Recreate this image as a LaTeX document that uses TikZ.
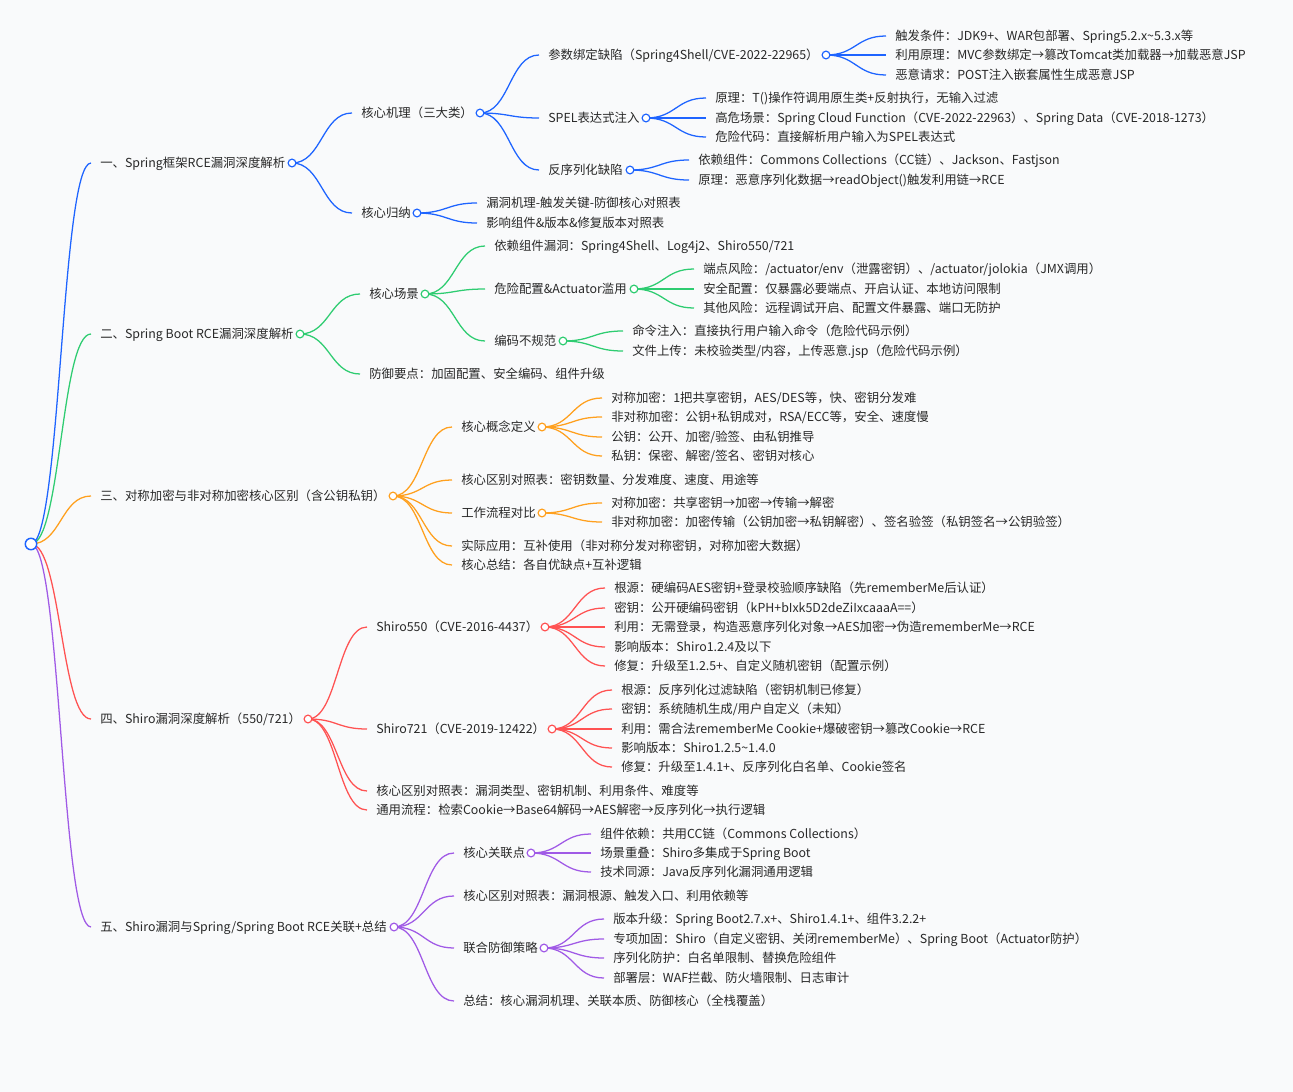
\documentclass[tikz,border=0pt]{standalone}
\usepackage{fontspec}
\setmainfont{Noto Sans CJK SC}
\usetikzlibrary{calc}

\definecolor{bgc}{RGB}{249,250,251}
\definecolor{txtc}{RGB}{40,40,40}
\definecolor{mblue}{RGB}{30,100,255}
\definecolor{mgreen}{RGB}{46,204,113}
\definecolor{morange}{RGB}{255,160,30}
\definecolor{mred}{RGB}{255,82,82}
\definecolor{mpurple}{RGB}{160,90,230}

\pgfdeclarelayer{bg}
\pgfdeclarelayer{edge}
\pgfsetlayers{bg,edge,main}

\begin{document}
\begin{tikzpicture}[x=0.75pt,y=-0.75pt,
  txt/.style={anchor=west,inner sep=0pt,text=txtc,text height=8.6pt,text depth=1.3pt,
    font=\fontsize{9.3}{11}\selectfont},
  dot/.style={circle,draw=#1,fill=white,line width=0.9pt,minimum size=5.8pt,inner sep=0pt},
  link/.style={draw=#1,line width=0.95pt}]

%% 背景
\begin{pgfonlayer}{bg}
\fill[bgc] (0,0) rectangle (1293,1092);
\end{pgfonlayer}
\useasboundingbox (0,0) rectangle (1293,1092);

%% 根
\node[dot=mblue,minimum size=8.6pt,line width=1.1pt] (c0) at (31,544) {};

%% 一
\node[txt] (t1) at (100,163) {一、Spring框架RCE漏洞深度解析};
\node[dot=mblue] (c1) at (292,163) {};
\node[txt] (t11) at (361,113) {核心机理（三大类）};
\node[dot=mblue] (c11) at (480,113) {};
\node[txt] (t111) at (548,55) {参数绑定缺陷（Spring4Shell/CVE-2022-22965）};
\node[dot=mblue] (c111) at (826,55) {};
\node[txt] (t1111) at (895,36) {触发条件：JDK9+、WAR包部署、Spring5.2.x\textasciitilde 5.3.x等};
\node[txt] (t1112) at (895,55) {利用原理：MVC参数绑定→篡改Tomcat类加载器→加载恶意JSP};
\node[txt] (t1113) at (895,75) {恶意请求：POST注入嵌套属性生成恶意JSP};
\node[txt] (t112) at (548,118) {SPEL表达式注入};
\node[dot=mblue] (c112) at (646,118) {};
\node[txt] (t1121) at (715,98) {原理：T()操作符调用原生类+反射执行，无输入过滤};
\node[txt] (t1122) at (715,118) {高危场景：Spring Cloud Function（CVE-2022-22963）、Spring Data（CVE-2018-1273）};
\node[txt] (t1123) at (715,137) {危险代码：直接解析用户输入为SPEL表达式};
\node[txt] (t113) at (548,170) {反序列化缺陷};
\node[dot=mblue] (c113) at (630,170) {};
\node[txt] (t1131) at (698,160) {依赖组件：Commons Collections（CC链）、Jackson、Fastjson};
\node[txt] (t1132) at (698,180) {原理：恶意序列化数据→readObject()触发利用链→RCE};
\node[txt] (t12) at (361,213) {核心归纳};
\node[dot=mblue] (c12) at (417,213) {};
\node[txt] (t121) at (486,203) {漏洞机理-触发关键-防御核心对照表};
\node[txt] (t122) at (486,223) {影响组件\&版本\&修复版本对照表};

%% 二
\node[txt] (t2) at (100,334) {二、Spring Boot RCE漏洞深度解析};
\node[dot=mgreen] (c2) at (300,334) {};
\node[txt] (t21) at (369,294) {核心场景};
\node[dot=mgreen] (c21) at (425,294) {};
\node[txt] (t211) at (494,246) {依赖组件漏洞：Spring4Shell、Log4j2、Shiro550/721};
\node[txt] (t212) at (494,289) {危险配置\&Actuator滥用};
\node[dot=mgreen] (c212) at (634,289) {};
\node[txt] (t2121) at (703,269) {端点风险：/actuator/env（泄露密钥）、/actuator/jolokia（JMX调用）};
\node[txt] (t2122) at (703,289) {安全配置：仅暴露必要端点、开启认证、本地访问限制};
\node[txt] (t2123) at (703,308) {其他风险：远程调试开启、配置文件暴露、端口无防护};
\node[txt] (t213) at (494,341) {编码不规范};
\node[dot=mgreen] (c213) at (563,341) {};
\node[txt] (t2131) at (632,331) {命令注入：直接执行用户输入命令（危险代码示例）};
\node[txt] (t2132) at (632,351) {文件上传：未校验类型/内容，上传恶意.jsp（危险代码示例）};
\node[txt] (t22) at (369,374) {防御要点：加固配置、安全编码、组件升级};

%% 三
\node[txt] (t3) at (100,496) {三、对称加密与非对称加密核心区别（含公钥私钥）};
\node[dot=morange] (c3) at (393,496) {};
\node[txt] (t31) at (461,427) {核心概念定义};
\node[dot=morange] (c31) at (542,427) {};
\node[txt] (t311) at (611,398) {对称加密：1把共享密钥，AES/DES等，快、密钥分发难};
\node[txt] (t312) at (611,417) {非对称加密：公钥+私钥成对，RSA/ECC等，安全、速度慢};
\node[txt] (t313) at (611,437) {公钥：公开、加密/验签、由私钥推导};
\node[txt] (t314) at (611,456) {私钥：保密、解密/签名、密钥对核心};
\node[txt] (t32) at (461,480) {核心区别对照表：密钥数量、分发难度、速度、用途等};
\node[txt] (t33) at (461,513) {工作流程对比};
\node[dot=morange] (c33) at (542,513) {};
\node[txt] (t331) at (611,503) {对称加密：共享密钥→加密→传输→解密};
\node[txt] (t332) at (611,522) {非对称加密：加密传输（公钥加密→私钥解密）、签名验签（私钥签名→公钥验签）};
\node[txt] (t34) at (461,546) {实际应用：互补使用（非对称分发对称密钥，对称加密大数据）};
\node[txt] (t35) at (461,565) {核心总结：各自优缺点+互补逻辑};

%% 四
\node[txt] (t4) at (100,719) {四、Shiro漏洞深度解析（550/721）};
\node[dot=mred] (c4) at (308,719) {};
\node[txt] (t41) at (376,627) {Shiro550（CVE-2016-4437）};
\node[dot=mred] (c41) at (545,627) {};
\node[txt] (t411) at (614,588) {根源：硬编码AES密钥+登录校验顺序缺陷（先rememberMe后认证）};
\node[txt] (t412) at (614,608) {密钥：公开硬编码密钥（kPH+bIxk5D2deZiIxcaaaA==）};
\node[txt] (t413) at (614,627) {利用：无需登录，构造恶意序列化对象→AES加密→伪造rememberMe→RCE};
\node[txt] (t414) at (614,647) {影响版本：Shiro1.2.4及以下};
\node[txt] (t415) at (614,666) {修复：升级至1.2.5+、自定义随机密钥（配置示例）};
\node[txt] (t42) at (376,729) {Shiro721（CVE-2019-12422）};
\node[dot=mred] (c42) at (552,729) {};
\node[txt] (t421) at (621,690) {根源：反序列化过滤缺陷（密钥机制已修复）};
\node[txt] (t422) at (621,709) {密钥：系统随机生成/用户自定义（未知）};
\node[txt] (t423) at (621,729) {利用：需合法rememberMe Cookie+爆破密钥→篡改Cookie→RCE};
\node[txt] (t424) at (621,748) {影响版本：Shiro1.2.5\textasciitilde 1.4.0};
\node[txt] (t425) at (621,767) {修复：升级至1.4.1+、反序列化白名单、Cookie签名};
\node[txt] (t43) at (376,791) {核心区别对照表：漏洞类型、密钥机制、利用条件、难度等};
\node[txt] (t44) at (376,810) {通用流程：检索Cookie→Base64解码→AES解密→反序列化→执行逻辑};

%% 五
\node[txt] (t5) at (100,927) {五、Shiro漏洞与Spring/Spring Boot RCE关联+总结};
\node[dot=mpurple] (c5) at (394,927) {};
\node[txt] (t51) at (463,853) {核心关联点};
\node[dot=mpurple] (c51) at (531,853) {};
\node[txt] (t511) at (600,834) {组件依赖：共用CC链（Commons Collections）};
\node[txt] (t512) at (600,853) {场景重叠：Shiro多集成于Spring Boot};
\node[txt] (t513) at (600,872) {技术同源：Java反序列化漏洞通用逻辑};
\node[txt] (t52) at (463,896) {核心区别对照表：漏洞根源、触发入口、利用依赖等};
\node[txt] (t53) at (463,948) {联合防御策略};
\node[dot=mpurple] (c53) at (544,948) {};
\node[txt] (t531) at (613,919) {版本升级：Spring Boot2.7.x+、Shiro1.4.1+、组件3.2.2+};
\node[txt] (t532) at (613,939) {专项加固：Shiro（自定义密钥、关闭rememberMe）、Spring Boot（Actuator防护）};
\node[txt] (t533) at (613,958) {序列化防护：白名单限制、替换危险组件};
\node[txt] (t534) at (613,978) {部署层：WAF拦截、防火墙限制、日志审计};
\node[txt] (t54) at (463,1001) {总结：核心漏洞机理、关联本质、防御核心（全栈覆盖）};

%% 線
\begin{pgfonlayer}{edge}
\foreach \col/\lst in {
  mblue/{c0/t1,c1/t11,c1/t12,c11/t111,c11/t112,c11/t113,c111/t1111,c111/t1112,c111/t1113,
    c112/t1121,c112/t1122,c112/t1123,c113/t1131,c113/t1132,c12/t121,c12/t122},
  mgreen/{c0/t2,c2/t21,c2/t22,c21/t211,c21/t212,c21/t213,c212/t2121,c212/t2122,c212/t2123,
    c213/t2131,c213/t2132},
  morange/{c0/t3,c3/t31,c3/t32,c3/t33,c3/t34,c3/t35,c31/t311,c31/t312,c31/t313,c31/t314,
    c33/t331,c33/t332},
  mred/{c0/t4,c4/t41,c4/t42,c4/t43,c4/t44,c41/t411,c41/t412,c41/t413,c41/t414,c41/t415,
    c42/t421,c42/t422,c42/t423,c42/t424,c42/t425},
  mpurple/{c0/t5,c5/t51,c5/t52,c5/t53,c5/t54,c51/t511,c51/t512,c51/t513,
    c53/t531,c53/t532,c53/t533,c53/t534}}
  \foreach \pa/\ch in \lst
    \draw[link=\col] let \p1=(\pa.center), \p2=($(\ch.west)+(-9,0)$) in
      (\p1) .. controls ({(\x1+\x2)/2},\y1) and ({(\x1+\x2)/2},\y2) .. (\p2);
\end{pgfonlayer}

\end{tikzpicture}
\end{document}
